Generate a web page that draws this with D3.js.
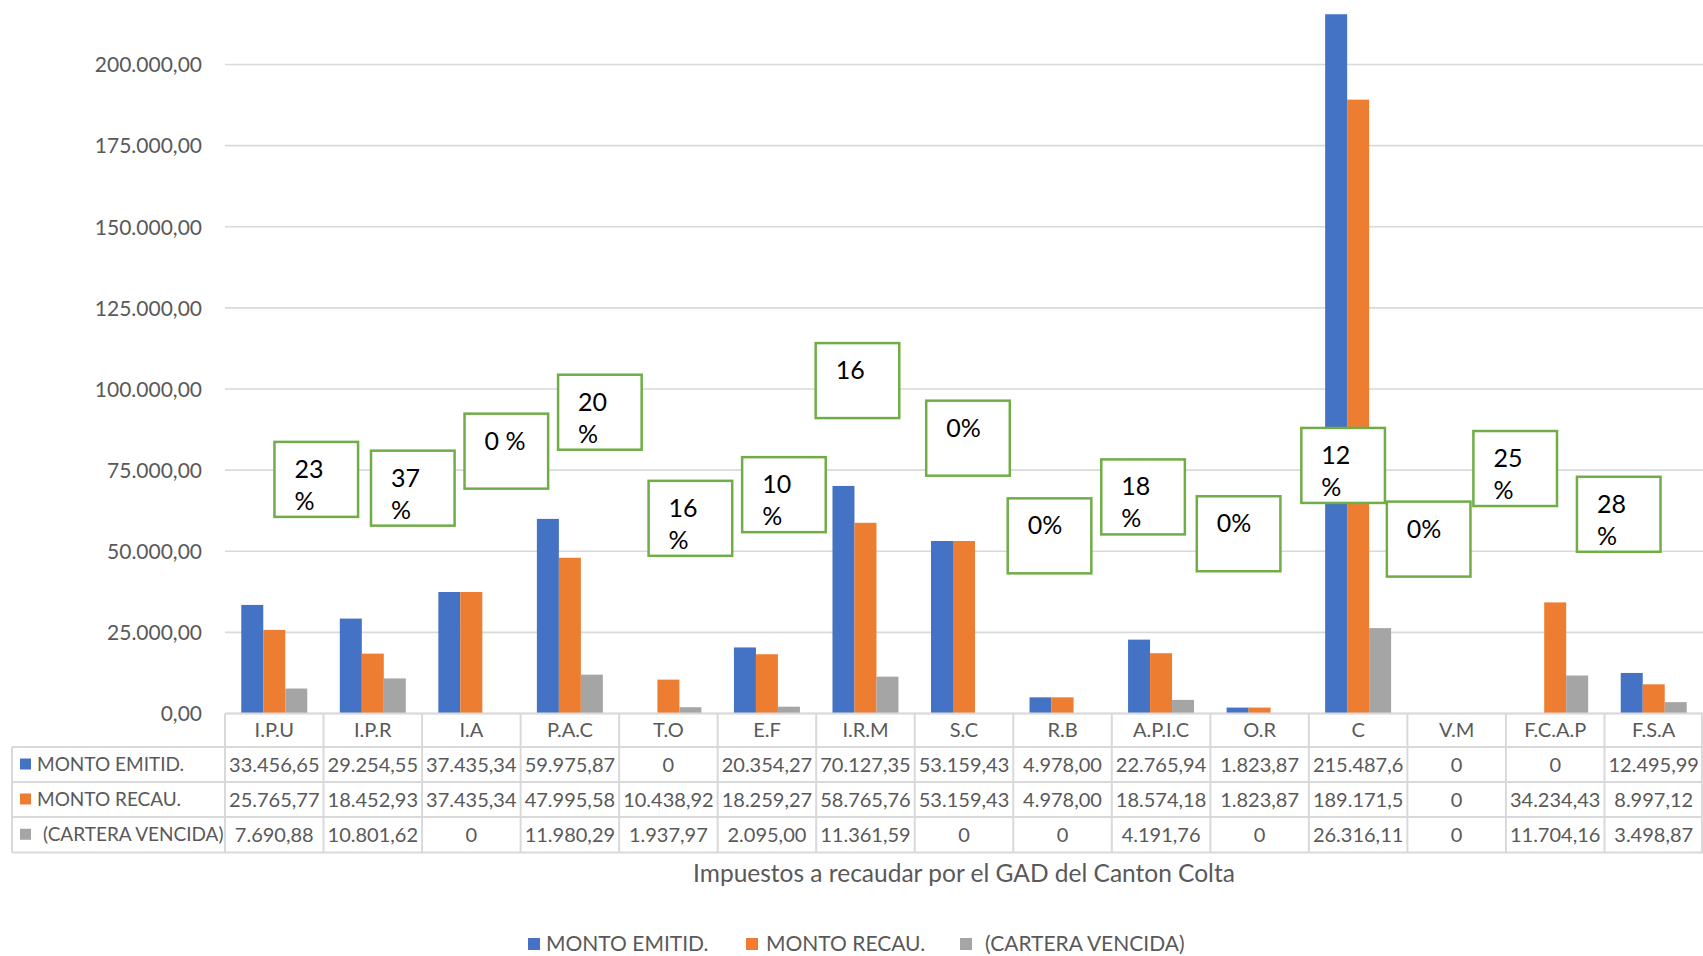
<!DOCTYPE html>
<html>
<head>
<meta charset="utf-8">
<script src="https://cdn.jsdelivr.net/npm/d3@7/dist/d3.min.js"></script>
<style>
  html, body { margin: 0; padding: 0; background: #fff; }
  svg { display: block; font-family: "Lato", "Open Sans", sans-serif; }
</style>
</head>
<body>
<svg id="chart" width="1703" height="956"></svg>
<script>
// ---------- data ----------
const categories = ["I.P.U","I.P.R","I.A","P.A.C","T.O","E.F","I.R.M","S.C","R.B","A.P.I.C","O.R","C","V.M","F.C.A.P","F.S.A"];
const seriesNames = ["MONTO EMITID.","MONTO RECAU.","(CARTERA VENCIDA)"];
const montoEmitido = [33456.65,29254.55,37435.34,59975.87,0,20354.27,70127.35,53159.43,4978.00,22765.94,1823.87,215487.6,0,0,12495.99];
const montoRecaudado = [25765.77,18452.93,37435.34,47995.58,10438.92,18259.27,58765.76,53159.43,4978.00,18574.18,1823.87,189171.5,0,34234.43,8997.12];
const carteraVencida = [7690.88,10801.62,0,11980.29,1937.97,2095.00,11361.59,0,0,4191.76,0,26316.11,0,11704.16,3498.87];
const emitidoText = ["33.456,65","29.254,55","37.435,34","59.975,87","0","20.354,27","70.127,35","53.159,43","4.978,00","22.765,94","1.823,87","215.487,6","0","0","12.495,99"];
const recaudadoText = ["25.765,77","18.452,93","37.435,34","47.995,58","10.438,92","18.259,27","58.765,76","53.159,43","4.978,00","18.574,18","1.823,87","189.171,5","0","34.234,43","8.997,12"];
const carteraText = ["7.690,88","10.801,62","0","11.980,29","1.937,97","2.095,00","11.361,59","0","0","4.191,76","0","26.316,11","0","11.704,16","3.498,87"];
const yTicks = [0,25000,50000,75000,100000,125000,150000,175000,200000];
const yTickLabels = ["0,00","25.000,00","50.000,00","75.000,00","100.000,00","125.000,00","150.000,00","175.000,00","200.000,00"];
const chartTitle = "Impuestos a recaudar por el GAD del Canton Colta";
// percentage annotation boxes: text lines, anchor value (box top), horizontal shift from category centre
const pctLines = [["23","%"],["37","%"],["0 %"],["20","%"],["16","%"],["10","%"],["16"],["0%"],["0%"],["18","%"],["0%"],["12","%"],["0%"],["25","%"],["28","%"]];
const pctTop = [83700,81000,92400,104400,71700,79000,114150,96400,66300,78300,66950,88000,65300,87050,72950];
const pctShift = [42,40,35,30,22,17,-8,4,-13,-18,-21,-15,-28,-40,-35];

const colors = ["#4472C4","#ED7D31","#A5A5A5"];
const values = [montoEmitido, montoRecaudado, carteraVencida];
const texts = [emitidoText, recaudadoText, carteraText];

// ---------- layout ----------
const W = 1703, H = 956;
const plotLeft = 225, plotRight = 1703;
const svg = d3.select("#chart");
const textColor = "#595959";
const gridColor = "#D9D9D9";

const x0 = d3.scaleBand().domain(categories).range([plotLeft, plotRight]).paddingInner(0).paddingOuter(0);
const x1 = d3.scaleBand().domain(d3.range(seriesNames.length)).range([0, x0.bandwidth()]).paddingInner(0).paddingOuter(0.74);
const y = d3.scaleLinear().domain([0, 200000]).range([713.5, 64.5]);

// gridlines
const grid = svg.append("g");
grid.selectAll("line").data(yTicks).join("line")
  .attr("x1", plotLeft).attr("x2", plotRight)
  .attr("y1", d => y(d)).attr("y2", d => y(d))
  .attr("stroke", gridColor).attr("stroke-width", 1.6);

// y axis labels
const yAxis = d3.axisLeft(y).tickValues(yTicks).tickSize(0).tickPadding(0)
  .tickFormat((d, i) => yTickLabels[i]);
const yg = svg.append("g").attr("transform", `translate(202,0)`).call(yAxis);
yg.select(".domain").remove();
yg.selectAll("text").attr("fill", textColor).style("font-size", "21px")
  .style("font-family", "Lato, 'Open Sans', sans-serif").attr("dy", "0.35em");

// bars
const barsG = svg.append("g");
values.forEach((vals, s) => {
  barsG.append("g").selectAll("rect").data(vals).join("rect")
    .attr("x", (d, i) => x0(categories[i]) + x1(s))
    .attr("width", x1.bandwidth())
    .attr("y", d => y(d))
    .attr("height", d => y(0) - y(d))
    .attr("fill", colors[s]);
});

// ---------- data table ----------
const rowTop = [713.5, 747, 782, 817, 852.5];
const tbl = svg.append("g");
const tblStroke = 2;
tbl.append("line").attr("x1", plotLeft).attr("x2", plotRight).attr("y1", rowTop[0]).attr("y2", rowTop[0])
  .attr("stroke", gridColor).attr("stroke-width", tblStroke);
[1,2,3,4].forEach(r => {
  tbl.append("line").attr("x1", 12).attr("x2", plotRight).attr("y1", rowTop[r]).attr("y2", rowTop[r])
    .attr("stroke", gridColor).attr("stroke-width", tblStroke);
});
categories.forEach((c, i) => {
  tbl.append("line").attr("x1", x0(c)).attr("x2", x0(c)).attr("y1", rowTop[0]).attr("y2", rowTop[4])
    .attr("stroke", gridColor).attr("stroke-width", tblStroke);
});
tbl.append("line").attr("x1", plotRight - 1).attr("x2", plotRight - 1).attr("y1", rowTop[0]).attr("y2", rowTop[4])
  .attr("stroke", gridColor).attr("stroke-width", tblStroke);
tbl.append("line").attr("x1", 12).attr("x2", 12).attr("y1", rowTop[1]).attr("y2", rowTop[4])
  .attr("stroke", gridColor).attr("stroke-width", tblStroke);

// category labels
tbl.append("g").selectAll("text").data(categories).join("text")
  .attr("x", d => x0(d) + x0.bandwidth() / 2)
  .attr("y", (rowTop[0] + rowTop[1]) / 2)
  .attr("dy", "0.35em").attr("text-anchor", "middle")
  .attr("fill", textColor).style("font-size", "20px")
  .text(d => d);

// rows
texts.forEach((row, r) => {
  const cy = (rowTop[r + 1] + rowTop[r + 2]) / 2;
  tbl.append("rect").attr("x", 20).attr("y", cy - 6).attr("width", 11).attr("height", 11).attr("fill", colors[r]);
  tbl.append("text").attr("x", r === 2 ? 43 : 37).attr("y", cy).attr("dy", "0.35em")
    .attr("fill", textColor).style("font-size", "19px").text(seriesNames[r]);
  tbl.append("g").selectAll("text").data(row).join("text")
    .attr("x", (d, i) => x0(categories[i]) + x0.bandwidth() / 2)
    .attr("y", cy).attr("dy", "0.35em").attr("text-anchor", "middle")
    .attr("fill", textColor).style("font-size", "20px")
    .text(d => d);
});

// ---------- percentage boxes ----------
const boxW = 83.6, boxH = 75;
const boxes = svg.append("g").selectAll("g").data(categories).join("g")
  .attr("transform", (c, i) => `translate(${x0(c) + x0.bandwidth() / 2 + pctShift[i] - boxW / 2},${y(pctTop[i])})`);
boxes.append("rect").attr("width", boxW).attr("height", boxH)
  .attr("fill", "#fff").attr("stroke", "#70AD47").attr("stroke-width", 2.5);
boxes.each(function(c, i) {
  const g = d3.select(this);
  pctLines[i].forEach((t, k) => {
    g.append("text").attr("x", 20).attr("y", 36 + k * 32)
      .attr("fill", "#000").style("font-size", "25px").text(t);
  });
});

// ---------- title ----------
svg.append("text").attr("x", 964).attr("y", 873).attr("dy", "0.35em")
  .attr("text-anchor", "middle").attr("fill", textColor).style("font-size", "24.5px")
  .text(chartTitle);

// ---------- legend ----------
const legendX = [528, 746, 960];
const legendTextX = [546, 766, 985];
const lg = svg.append("g");
seriesNames.forEach((n, i) => {
  lg.append("rect").attr("x", legendX[i]).attr("y", 944 - 6).attr("width", 12).attr("height", 12).attr("fill", colors[i]);
  lg.append("text").attr("x", legendTextX[i]).attr("y", 944).attr("dy", "0.35em")
    .attr("fill", textColor).style("font-size", "21px").text(n);
});
</script>
</body>
</html>
